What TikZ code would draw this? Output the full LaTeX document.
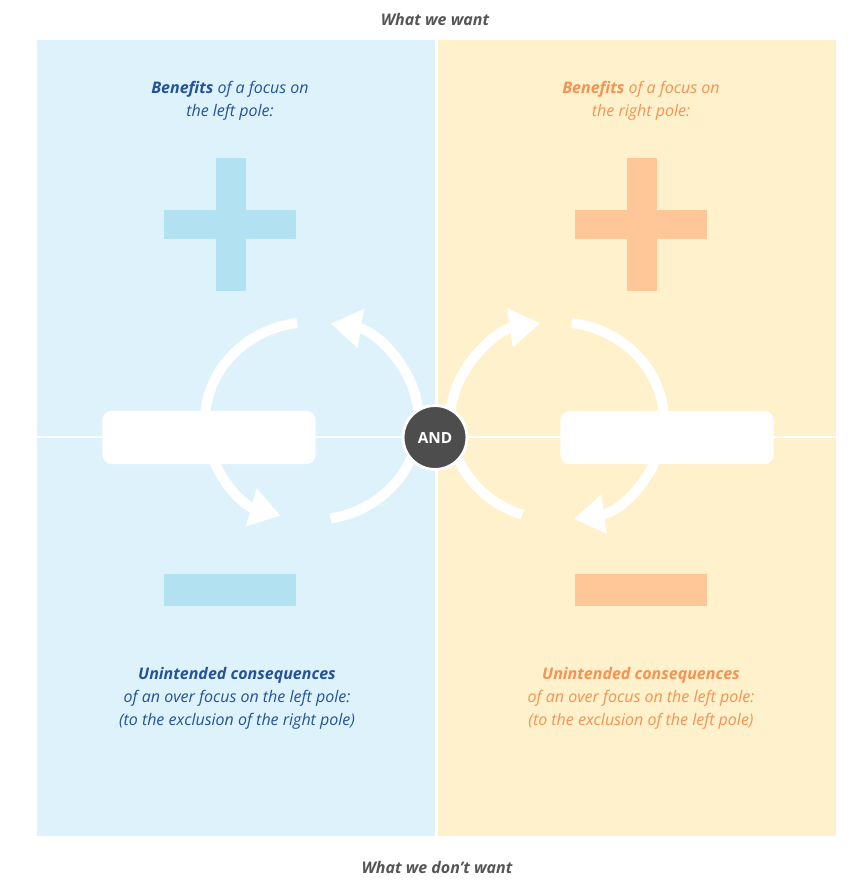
\documentclass[tikz,border=0pt]{standalone}
\usepackage{fontspec}
\setmainfont{Open Sans}
\usetikzlibrary{arrows.meta,positioning}

\definecolor{leftbg}{RGB}{221,242,251}
\definecolor{rightbg}{RGB}{255,241,204}
\definecolor{leftsign}{RGB}{178,225,241}
\definecolor{rightsign}{RGB}{255,199,152}
\definecolor{lefttext}{RGB}{36,82,152}
\definecolor{righttext}{RGB}{246,146,82}
\definecolor{andgray}{RGB}{77,77,77}
\definecolor{headgray}{RGB}{85,85,85}

\begin{document}
\begin{tikzpicture}[x=0.75pt,y=-0.75pt,
  loop/.style={white,line width=7.5pt,-{Triangle[length=23pt,width=28pt]}},
  note/.style={font=\itshape\fontsize{12}{17.2}\selectfont,align=center},
  head/.style={font=\bfseries\itshape\fontsize{12}{14}\selectfont,text=headgray},
  polebox/.style={fill=white,rounded corners=7pt,minimum width=160pt,minimum height=40pt,inner sep=0pt}]
\useasboundingbox (0,0) rectangle (863,888);

% quadrants
\fill[leftbg] (37,40) rectangle (434.5,836);
\fill[rightbg] (437.5,40) rectangle (836,836);
\draw[white,line width=1.3pt] (37,437) -- (836,437);

% plus and minus signs
\foreach \dx/\col in {0/leftsign,411/rightsign}{
  \fill[\col] (164+\dx,210) rectangle (296+\dx,239);
  \fill[\col] (216+\dx,158) rectangle (246+\dx,291);
  \fill[\col] (164+\dx,574) rectangle (296+\dx,606);
}

% loops
\coordinate (lc) at (312,421);
\coordinate (rc) at (557,421);
\draw[loop] (lc) ++(262:107 and 99) arc[start angle=262,end angle=107,x radius=107,y radius=99];
\draw[loop] (lc) ++(80:107 and 99) arc[start angle=80,end angle=-80,x radius=107,y radius=99];
\draw[loop] (rc) ++(109:107 and 99) arc[start angle=109,end angle=261,x radius=107,y radius=99];
\draw[loop] (rc) ++(-82:107 and 99) arc[start angle=-82,end angle=81,x radius=107,y radius=99];

% poles
\node[polebox] (leftpole) at (209,437.5) {};
\node[polebox] (rightpole) at (667,437.5) {};
\node[circle,fill=andgray,draw=white,line width=2.2pt,minimum size=48pt,inner sep=0pt,
  text=white,font=\bfseries\fontsize{11.5}{13}\selectfont] (and) at (435,437.5) {AND};

% texts
\node[head] (want) at (435,20) {What we want};
\node[head] (dontwant) at (437,867) {What we don't want};
\node[note,text=lefttext] (leftplus) at (230,100.5) {\textbf{Benefits} of a focus on\\the left pole:};
\node[note,text=righttext] (rightplus) at (641,100.5) {\textbf{Benefits} of a focus on\\the right pole:};
\node[note,text=lefttext] (leftminus) at (237,698) {\textbf{Unintended consequences}\\of an over focus on the left pole:\\(to the exclusion of the right pole)};
\node[note,text=righttext] (rightminus) at (641,698) {\textbf{Unintended consequences}\\of an over focus on the left pole:\\(to the exclusion of the left pole)};
\end{tikzpicture}
\end{document}
